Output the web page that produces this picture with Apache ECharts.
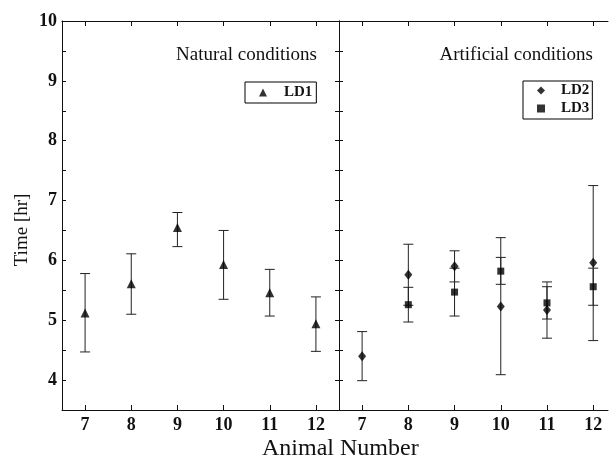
<!DOCTYPE html>
<html>
<head>
<meta charset="utf-8">
<script src="https://cdn.jsdelivr.net/npm/echarts@6/dist/echarts.min.js"></script>
<style>html,body{margin:0;padding:0;background:#fff}#c{width:609px;height:461px}</style>
</head>
<body>
<div id="c"></div>
<script>
// Data
var animals = [7, 8, 9, 10, 11, 12];
var ld1 = [5.12, 5.61, 6.55, 5.93, 5.46, 4.94];
var ld1Low = [4.47, 5.10, 6.23, 5.35, 5.07, 4.48];
var ld1High = [5.78, 6.11, 6.80, 6.50, 5.85, 5.39];

var ld2 = [4.40, 5.76, 5.90, 5.23, 5.17, 5.96];
var ld2Low = [3.99, 5.25, 5.64, 4.09, 4.70, 4.66];
var ld2High = [4.81, 6.27, 6.16, 6.38, 5.64, 7.25];

var ld3Animals = [8, 9, 10, 11, 12];
var ld3 = [5.26, 5.47, 5.82, 5.29, 5.56];
var ld3Low = [4.97, 5.07, 5.60, 5.02, 5.25];
var ld3High = [5.55, 5.87, 6.05, 5.56, 5.87];

var yTicks = [4, 5, 6, 7, 8, 9, 10];

function pts(xs, ys) { return xs.map(function (x, i) { return [x, ys[i]]; }); }
function errs(xs, lo, hi) { return xs.map(function (x, i) { return [x, lo[i], hi[i]]; }); }

var FONT = 'Liberation Serif';
var INK = '#111';

function renderErr(params, api) {
  var x = api.value(0), lo = api.value(1), hi = api.value(2);
  var a = api.coord([x, lo]), b = api.coord([x, hi]);
  var w = 5;
  var st = { stroke: '#222', lineWidth: 1 };
  return {
    type: 'group',
    children: [
      { type: 'line', shape: { x1: a[0], y1: a[1], x2: b[0], y2: b[1] }, style: st },
      { type: 'line', shape: { x1: a[0] - w, y1: a[1], x2: a[0] + w, y2: a[1] }, style: st },
      { type: 'line', shape: { x1: b[0] - w, y1: b[1], x2: b[0] + w, y2: b[1] }, style: st }
    ]
  };
}

function xAx(grid, pos, max, labels) {
  return {
    type: 'value', gridIndex: grid, position: pos, min: 6.5, max: max,
    axisLine: { show: true, onZero: false, lineStyle: { color: INK, width: 1 } },
    axisTick: { show: true, inside: true, length: 5, customValues: animals, lineStyle: { color: INK } },
    axisLabel: labels ? { show: true, customValues: animals, margin: 6, fontFamily: FONT, fontSize: 18, fontWeight: 'bold', color: INK } : { show: false },
    splitLine: { show: false }
  };
}
function yAx(grid, pos, labels) {
  return {
    type: 'value', gridIndex: grid, position: pos, min: 3.5, max: 10, interval: 0.5,
    axisLine: { show: true, lineStyle: { color: INK, width: 1 } },
    axisTick: { show: true, inside: true, length: 4, lineStyle: { color: INK } },
    axisLabel: labels ? {
      show: true, margin: 5, fontFamily: FONT, fontSize: 18, fontWeight: 'bold', color: INK,
      formatter: function (v) { return yTicks.indexOf(v) >= 0 ? String(v) : ''; }
    } : { show: false },
    splitLine: { show: false }
  };
}

var chart = echarts.init(document.getElementById('c'), null, { renderer: 'canvas' });

chart.setOption({
  animation: false,
  backgroundColor: '#fff',
  textStyle: { fontFamily: FONT },
  grid: [
    { left: 62, right: 270, top: 21, bottom: 51 },
    { left: 339, right: 1, top: 21, bottom: 51 }
  ],
  title: [
    { text: 'Natural conditions', right: 292, top: 46, padding: 0, textStyle: { fontFamily: FONT, fontWeight: 'normal', fontSize: 19, color: INK } },
    { text: 'Artificial conditions', right: 16, top: 46, padding: 0, textStyle: { fontFamily: FONT, fontWeight: 'normal', fontSize: 19, color: INK } },
    { text: 'Animal Number', left: 262, top: 437, padding: 0, textStyle: { fontFamily: FONT, fontWeight: 'normal', fontSize: 24, color: INK } }
  ],
  graphic: [
    {
      type: 'text', x: 22, y: 230, rotation: Math.PI / 2,
      style: { text: 'Time [hr]', align: 'center', verticalAlign: 'middle', font: '19px "Liberation Serif"', fill: INK }
    }
  ],
  legend: [
    {
      data: ['LD1'], left: 245, top: 82, padding: [3, 4, 3, 14],
      itemWidth: 8, itemHeight: 8, borderColor: '#000', borderWidth: 1, borderRadius: 0,
      textStyle: { fontFamily: FONT, fontSize: 15, fontWeight: 'bold', color: INK, padding: [0, 0, 0, 12] }, selectedMode: false
    },
    {
      data: ['LD2', 'LD3'], left: 523, top: 81, orient: 'vertical', padding: [2, 3, 3, 14], itemGap: 3,
      itemWidth: 8, itemHeight: 8, borderColor: '#000', borderWidth: 1, borderRadius: 0,
      textStyle: { fontFamily: FONT, fontSize: 15, fontWeight: 'bold', color: INK, padding: [0, 0, 0, 11] }, selectedMode: false
    }
  ],
  xAxis: [
    xAx(0, 'bottom', 12.5, true),
    xAx(0, 'top', 12.5, false),
    xAx(1, 'bottom', 12.32, true),
    xAx(1, 'top', 12.32, false)
  ],
  yAxis: [
    yAx(0, 'left', true),
    yAx(0, 'right', false),
    yAx(1, 'left', false)
  ],
  series: [
    { type: 'custom', name: 'errLD1', xAxisIndex: 0, yAxisIndex: 0, renderItem: renderErr, encode: { x: 0, y: [1, 2] }, data: errs(animals, ld1Low, ld1High), z: 2 },
    { type: 'custom', name: 'errLD2', xAxisIndex: 2, yAxisIndex: 2, renderItem: renderErr, encode: { x: 0, y: [1, 2] }, data: errs(animals, ld2Low, ld2High), z: 2 },
    { type: 'custom', name: 'errLD3', xAxisIndex: 2, yAxisIndex: 2, renderItem: renderErr, encode: { x: 0, y: [1, 2] }, data: errs(ld3Animals, ld3Low, ld3High), z: 2 },
    { type: 'scatter', name: 'LD1', xAxisIndex: 0, yAxisIndex: 0, symbol: 'triangle', symbolSize: 9, itemStyle: { color: '#000' }, data: pts(animals, ld1), z: 3 },
    { type: 'scatter', name: 'LD2', xAxisIndex: 2, yAxisIndex: 2, symbol: 'diamond', symbolSize: [8, 10], itemStyle: { color: '#000' }, data: pts(animals, ld2), z: 3 },
    { type: 'scatter', name: 'LD3', xAxisIndex: 2, yAxisIndex: 2, symbol: 'rect', symbolSize: 7, itemStyle: { color: '#000' }, data: pts(ld3Animals, ld3), z: 3 }
  ]
});
</script>
</body>
</html>
